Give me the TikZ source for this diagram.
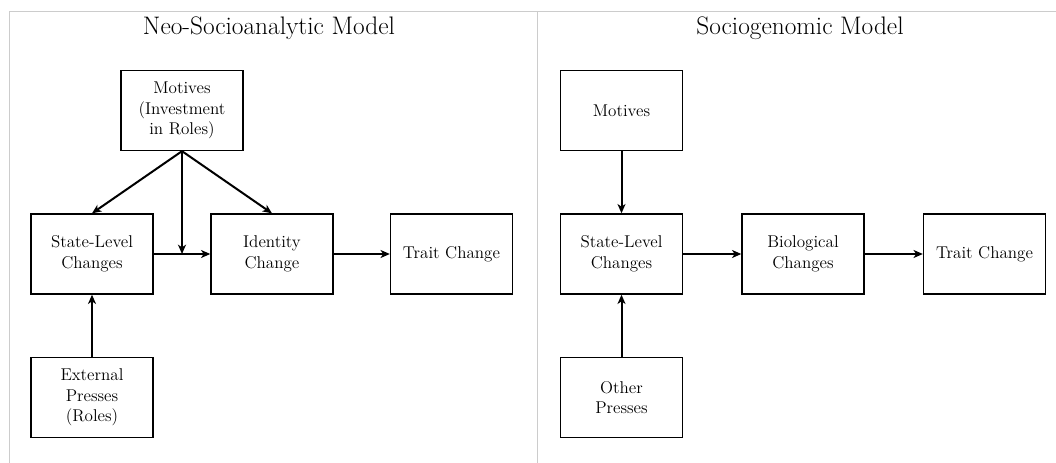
\documentclass[tikz,border=0pt]{standalone}
\usetikzlibrary{arrows.meta}

\tikzset{
  box/.style={draw, line width=1pt, minimum width=91.5pt, minimum height=60pt,
    align=center, inner sep=2pt, font=\fontsize{12.8}{15.4}\selectfont},
  heading/.style={font=\fontsize{19}{22}\selectfont},
  link/.style={line width=1.5pt, -{Stealth[length=7pt,width=6pt,inset=2pt]}},
  frame/.style={draw=black!20, line width=0.75pt}
}

\begin{document}
\begin{tikzpicture}[x=0.75pt, y=-0.75pt]
		%%%%% START %%%%%
		\useasboundingbox (0, 0) rectangle (1056, 463);
		
		% panel lines
		\draw[frame] (9, 463) -- (9, 12) -- (1056, 12);
		\draw[frame] (537, 12) -- (537, 463);
		
		% left panel
		\node[heading] (ttlL) at (269, 28) {Neo-Socioanalytic Model};
		\node[box] (motL) at (182, 110.5) {Motives\\(Investment\\in Roles)};
		\node[box] (stateL) at (92, 254) {State-Level\\Changes};
		\node[box] (ident) at (272, 254) {Identity\\Change};
		\node[box] (traitL) at (451.5, 254) {Trait Change};
		\node[box] (extern) at (92, 397.5) {External\\Presses\\(Roles)};
		\coordinate (joint) at (182, 254);
		
		\draw[link] (motL.south) -- (stateL.north);
		\draw[link] (motL.south) -- (ident.north);
		\draw[link] (motL.south) -- (joint);
		\draw[link] (stateL.east) -- (ident.west);
		\draw[link] (ident.east) -- (traitL.west);
		\draw[link] (extern.north) -- (stateL.south);
		
		% right panel
		\node[heading] (ttlR) at (800, 28) {Sociogenomic Model};
		\node[box] (motR) at (621.5, 110.5) {Motives};
		\node[box] (stateR) at (621.5, 254) {State-Level\\Changes};
		\node[box] (bio) at (803, 254) {Biological\\Changes};
		\node[box] (traitR) at (984.5, 254) {Trait Change};
		\node[box] (other) at (621.5, 397.5) {Other\\Presses};
		
		\draw[link] (motR.south) -- (stateR.north);
		\draw[link] (stateR.east) -- (bio.west);
		\draw[link] (bio.east) -- (traitR.west);
		\draw[link] (other.north) -- (stateR.south);
		
		%%%%% END %%%%%
	\end{tikzpicture}
\end{document}
